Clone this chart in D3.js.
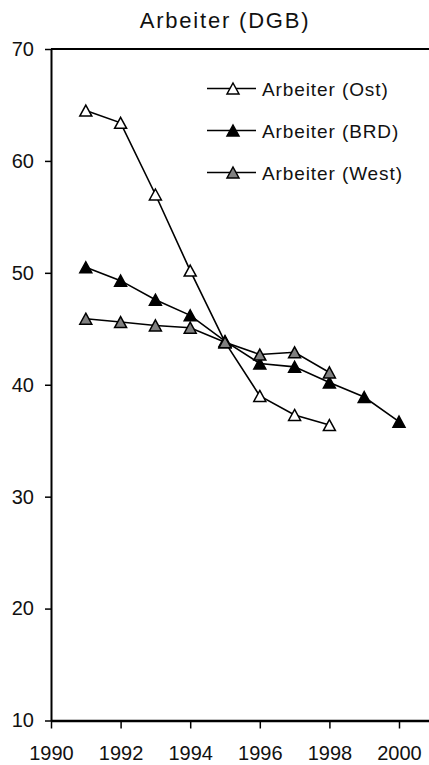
<!DOCTYPE html>
<html>
<head>
<meta charset="utf-8">
<script src="https://cdn.jsdelivr.net/npm/d3@7"></script>
<style>
  html, body { margin: 0; padding: 0; background: #fff; }
  svg { display: block; }
  text { font-family: "Liberation Sans", Arial, sans-serif; fill: #111; }
</style>
</head>
<body>
<svg id="chart" width="429" height="765"></svg>
<script>
const title = "Arbeiter (DGB)";
const seriesNames = ["Arbeiter (Ost)", "Arbeiter (BRD)", "Arbeiter (West)"];
const seriesFills = ["#ffffff", "#000000", "#808080"];

const yearsOst = [1991, 1992, 1993, 1994, 1995, 1996, 1997, 1998];
const valuesOst = [64.5, 63.4, 57.0, 50.2, 43.8, 39.0, 37.3, 36.4];

const yearsBRD = [1991, 1992, 1993, 1994, 1995, 1996, 1997, 1998, 1999, 2000];
const valuesBRD = [50.5, 49.3, 47.6, 46.2, 43.9, 41.9, 41.6, 40.2, 38.9, 36.7];

const yearsWest = [1991, 1992, 1993, 1994, 1995, 1996, 1997, 1998];
const valuesWest = [45.9, 45.6, 45.3, 45.1, 43.8, 42.7, 42.9, 41.1];

const xTicks = [1990, 1992, 1994, 1996, 1998, 2000];
const yTicks = [10, 20, 30, 40, 50, 60, 70];

const svg = d3.select("#chart");

const x = d3.scaleLinear().domain([1990, 2001]).range([51, 433.8]);
const y = d3.scaleLinear().domain([10, 70]).range([720.5, 49]);

// title
svg.append("text")
  .attr("x", 225).attr("y", 28)
  .attr("text-anchor", "middle")
  .style("font-size", "22px")
  .style("letter-spacing", "1.8px")
  .text(title);

// top frame line
svg.append("line")
  .attr("x1", x(1990)).attr("x2", x(2001))
  .attr("y1", y(70)).attr("y2", y(70))
  .attr("stroke", "#000").attr("stroke-width", 2);

// axes
const yAxis = d3.axisLeft(y).tickValues(yTicks).tickFormat(d3.format("d"))
  .tickSize(6).tickSizeOuter(0).tickPadding(11);
const gy = svg.append("g").attr("transform", `translate(${x(1990)},0)`).call(yAxis);
gy.select(".domain").attr("stroke", "#000").attr("stroke-width", 2);
gy.selectAll(".tick line").attr("stroke", "#000").attr("stroke-width", 1.5);
gy.selectAll(".tick text").style("font-size", "20px").style("font-family", "'Liberation Sans', Arial, sans-serif").attr("fill", "#111");

const xAxis = d3.axisBottom(x).tickValues(xTicks).tickFormat(d3.format("d"))
  .tickSize(8).tickSizeOuter(0).tickPadding(17);
const gx = svg.append("g").attr("transform", `translate(0,${y(10)})`).call(xAxis);
gx.select(".domain").attr("stroke", "#000").attr("stroke-width", 2.5);
gx.selectAll(".tick line").attr("stroke", "#000").attr("stroke-width", 1.5);
gx.selectAll(".tick text").style("font-size", "20px").style("font-family", "'Liberation Sans', Arial, sans-serif").attr("fill", "#111");

// marker shape (bbox-centred triangle)
function tri(cx, cy) {
  const w = 12, h = 11;
  return `M${cx},${cy - h / 2}L${cx + w / 2},${cy + h / 2}L${cx - w / 2},${cy + h / 2}Z`;
}

const series = [
  { name: seriesNames[0], years: yearsOst, values: valuesOst, fill: seriesFills[0] },
  { name: seriesNames[1], years: yearsBRD, values: valuesBRD, fill: seriesFills[1] },
  { name: seriesNames[2], years: yearsWest, values: valuesWest, fill: seriesFills[2] }
];

const line = d3.line().x(d => x(d[0])).y(d => y(d[1]));

series.forEach(s => {
  const pts = s.years.map((yr, i) => [yr, s.values[i]]);
  const g = svg.append("g");
  g.append("path").attr("d", line(pts))
    .attr("fill", "none").attr("stroke", "#000").attr("stroke-width", 1.6);
  g.selectAll("path.m").data(pts).enter().append("path")
    .attr("class", "m")
    .attr("d", d => tri(x(d[0]), y(d[1])))
    .attr("fill", s.fill).attr("stroke", "#000").attr("stroke-width", 1.5)
    .attr("stroke-linejoin", "miter");
});

// legend
const legend = svg.append("g");
series.forEach((s, i) => {
  const ly = 88.5 + i * 42;
  legend.append("line").attr("x1", 207).attr("x2", 256).attr("y1", ly).attr("y2", ly)
    .attr("stroke", "#000").attr("stroke-width", 1.6);
  legend.append("path").attr("d", tri(233, ly))
    .attr("fill", s.fill).attr("stroke", "#000").attr("stroke-width", 1.5);
  legend.append("text").attr("x", 262).attr("y", ly + 7.5)
    .style("font-size", "19px").style("letter-spacing", "0.9px")
    .text(s.name);
});
</script>
</body>
</html>
